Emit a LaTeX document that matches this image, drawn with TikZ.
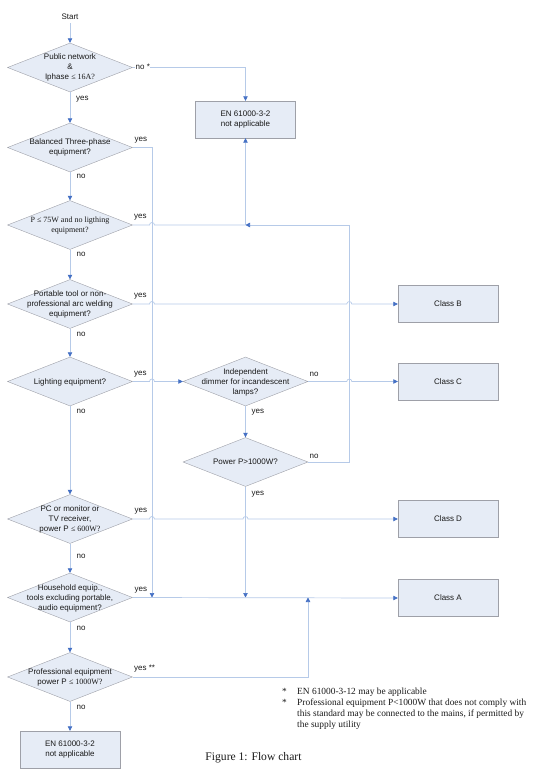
\documentclass[tikz,border=0pt]{standalone}
\usepackage{fontspec}
\setmainfont{Liberation Sans}
\newfontfamily\timesrm{Liberation Serif}
\usetikzlibrary{arrows.meta}
\usetikzlibrary{shapes.geometric}

\definecolor{boxfill}{RGB}{230,236,246}
\definecolor{boxline}{RGB}{158,160,168}
\definecolor{wireblue}{RGB}{182,202,232}
\definecolor{tipblue}{RGB}{68,112,196}
\definecolor{ink}{RGB}{25,25,25}

% text of a decision, kept from widening the diamond
\newcommand{\qtext}[1]{\smash{\raisebox{-2.5pt}{\begin{tabular}{@{}c@{}}#1\end{tabular}}}}

\tikzset{
  decision/.style={diamond, draw=boxline, fill=boxfill, shape aspect=2.55,
    minimum width=125pt, minimum height=49pt, inner sep=0pt},
  result/.style={rectangle, draw=boxline, fill=boxfill, minimum width=100pt,
    minimum height=37pt, align=center},
  wire/.style={draw=wireblue, line width=0.7pt},
  flow/.style={wire, -{Triangle[length=4.5pt, width=4.5pt, color=tipblue]}},
  answer/.style={anchor=west, inner sep=0pt},
}

\begin{document}
\begin{tikzpicture}[x=1pt, y=-1pt, font=\fontsize{8}{10}\selectfont,
    every node/.append style={text=ink}]
  \useasboundingbox (0,0) rectangle (541,778);

  % decisions, left column
  \node (start) at (70,17) {Start};
  \node[decision] (public) at (70,67.5) {\qtext{Public network\\\&\\Iphase {\timesrm ≤ 16A?}}};
  \node[decision] (three) at (70,147.5) {\qtext{Balanced Three-phase\\equipment?}};
  \node[decision] (low) at (70,225) {\qtext{\timesrm P ≤ 75W and no ligthing\\\timesrm equipment?}};
  \node[decision] (tool) at (70,304) {\qtext{Portable tool or non-\\professional arc welding\\equipment?}};
  \node[decision] (light) at (70,381.5) {\qtext{Lighting equipment?}};
  \node[decision] (pc) at (70,519) {\qtext{PC or monitor or\\TV receiver,\\power P {\timesrm ≤ 600W?}}};
  \node[decision] (house) at (70,597.5) {\qtext{Household equip.,\\tools excluding portable,\\audio equipment?}};
  \node[decision] (prof) at (70,677) {\qtext{Professional equipment\\power P {\timesrm ≤ 1000W?}}};
  \node[result] (notapp2) at (70,749.5) {EN 61000-3-2\\not applicable};

  % middle column
  \node[result] (notapp) at (245.5,119.5) {EN 61000-3-2\\not applicable};
  \node[decision] (dimmer) at (245.5,381.5) {\qtext{Independent\\dimmer for incandescent\\lamps?}};
  \node[decision] (power) at (245.5,462) {\qtext{Power P>1000W?}};

  % classes
  \node[result] (classB) at (448,304) {Class B};
  \node[result] (classC) at (448,381.5) {Class C};
  \node[result] (classD) at (448,519) {Class D};
  \node[result] (classA) at (448,598) {Class A};

  \coordinate (join) at (245.5,225);
  \coordinate (loop) at (349.3,225);
  \coordinate (railL) at (152,597.5);
  \coordinate (railM) at (245.5,597.5);
  \coordinate (railR) at (308,597.5);

  \draw[flow] (start) -- (public);
  \draw[flow] (public.east) -| (notapp.north);
  \draw[flow] (public) -- (three);
  \draw[flow] (three.east) -| (railL);
  \draw[flow] (three) -- (low);
  \draw[wire] (low.east) -- (149.5,225) arc[start angle=180, end angle=0, radius=2.5pt] -- (join);
  \draw[flow] (join) -- (notapp.south);
  \draw[flow] (low) -- (tool);
  \draw[flow] (tool.east) -- (149.5,304) arc[start angle=180, end angle=0, radius=2.5pt]
    -- (346.8,304) arc[start angle=180, end angle=0, radius=2.5pt] -- (classB.west);
  \draw[flow] (tool) -- (light);
  \draw[flow] (light.east) -- (149.5,381.5) arc[start angle=180, end angle=0, radius=2.5pt] -- (dimmer.west);
  \draw[flow] (dimmer.east) -- (346.8,381.5) arc[start angle=180, end angle=0, radius=2.5pt] -- (classC.west);
  \draw[flow] (dimmer) -- (power);
  \draw[flow] (power.east) -| (loop) -- (join);
  \draw[flow] (power) -- (railM);
  \draw[flow] (light) -- (pc);
  \draw[flow] (pc.east) -- (149.5,519) arc[start angle=180, end angle=0, radius=2.5pt]
    -- (243,519) arc[start angle=180, end angle=0, radius=2.5pt] -- (classD.west);
  \draw[flow] (pc) -- (house);
  \draw[flow] (house.east) -- (classA.west);
  \draw[flow] (house) -- (prof);
  \draw[flow] (prof.east) -| (railR);
  \draw[flow] (prof) -- (notapp2);

  % answers
  \node[answer, fill=white, inner sep=0.5pt] (a1) at (135,66.5) {no *};
  \node[answer] (a2) at (76,99.5) {yes};
  \node[answer] (a3) at (134.5,140.5) {yes};
  \node[answer] (a4) at (76.5,176) {no};
  \node[answer] (a5) at (134,217) {yes};
  \node[answer] (a6) at (76.5,254.5) {no};
  \node[answer] (a7) at (134,296.5) {yes};
  \node[answer] (a8) at (76.5,334) {no};
  \node[answer] (a9) at (134,374) {yes};
  \node[answer] (a10) at (309.5,374) {no};
  \node[answer] (a11) at (251.5,412.5) {yes};
  \node[answer] (a12) at (76.5,411) {no};
  \node[answer] (a13) at (309.5,456) {no};
  \node[answer] (a14) at (251.5,494) {yes};
  \node[answer] (a15) at (134.5,511) {yes};
  \node[answer] (a16) at (76.5,556) {no};
  \node[answer] (a17) at (134.5,590) {yes};
  \node[answer] (a18) at (76.5,628) {no};
  \node[answer] (a19) at (134,668.5) {yes **};
  \node[answer] (a20) at (76.5,707) {no};

  % notes and caption
  \node[anchor=west, inner sep=0pt, font=\timesrm\fontsize{9.4}{10.9}\selectfont] (notes) at (282,709)
    {\begin{tabular}{@{}p{15pt}@{}l@{}}
      * & EN 61000-3-12 may be applicable\\
      ** & Professional equipment P<1000W that does not comply with\\
       & this standard may be connected to the mains, if permitted by\\
       & the supply utility
    \end{tabular}};
  \node[font=\timesrm\fontsize{11.6}{14}\selectfont] (caption) at (253.5,757.5) {Figure 1: Flow chart};
\end{tikzpicture}
\end{document}
